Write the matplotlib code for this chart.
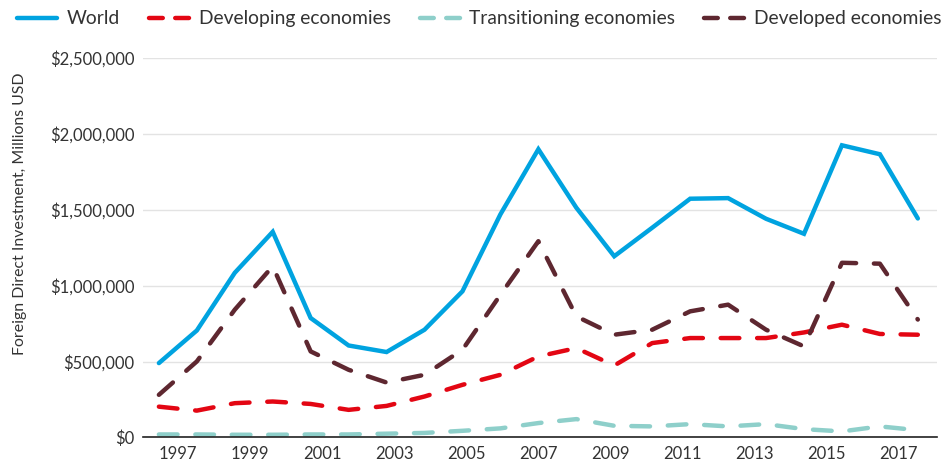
import numpy as np
import matplotlib.pyplot as plt
from matplotlib.lines import Line2D

years = list(range(1997, 2018))

world = [490, 705, 1085, 1355, 787, 606, 563, 710, 963, 1470, 1899,
         1514, 1194, 1382, 1573, 1577, 1441, 1342, 1925, 1866, 1443]
developing = [203, 177, 226, 237, 221, 182, 208, 270, 347, 413, 534,
              589, 474, 622, 655, 655, 655, 692, 743, 682, 677]
transitioning = [20, 20, 18, 18, 20, 20, 25, 30, 44, 60, 95,
                 121, 77, 73, 88, 73, 88, 55, 40, 73, 48]
developed = [281, 501, 842, 1128, 567, 446, 362, 413, 578, 940, 1293,
             798, 677, 710, 831, 875, 710, 600, 1151, 1145, 777]

# values above are thousands of millions USD
world = np.array(world) * 1000
developing = np.array(developing) * 1000
transitioning = np.array(transitioning) * 1000
developed = np.array(developed) * 1000

tick_labels = [str(y) for y in range(1997, 2018, 2)]

plt.rcParams['font.family'] = ['Lato', 'DejaVu Sans']
txt = '#333333'
c_world, c_dev, c_trans, c_devd = '#00a3e0', '#e30613', '#8ecfca', '#5e2730'

fig = plt.figure(figsize=(9.53, 4.66), dpi=100)
ax = fig.add_axes([0.150, 0.0612, 0.833, 0.8143])

dash = (4.2, 4.0)
ax.plot(years, world, color=c_world, lw=3.2, solid_capstyle='round',
        solid_joinstyle='miter', zorder=5)
ax.plot(years, developing, color=c_dev, lw=3.2, dashes=dash,
        dash_capstyle='round', zorder=4)
ax.plot(years, transitioning, color=c_trans, lw=3.2, dashes=dash,
        dash_capstyle='round', zorder=3)
ax.plot(years, developed, color=c_devd, lw=3.2, dashes=dash,
        dash_capstyle='round', zorder=4)

ax.set_ylim(0, 2500000)
ax.set_xlim(1996.58, 2017.5)
ax.set_yticks(np.arange(0, 2500001, 500000))
ax.set_yticklabels(['${:,.0f}'.format(v) for v in np.arange(0, 2500001, 500000)])
ax.set_xticks(np.linspace(1997.5, 2016.5, len(tick_labels)))
ax.set_xticklabels(tick_labels)
ax.tick_params(length=0, labelsize=12, colors=txt, pad=6)
ax.tick_params(axis='y', pad=6)
ax.grid(axis='y', color='#e3e3e3', lw=1)
ax.set_axisbelow(True)
for s in ['top', 'right', 'left']:
    ax.spines[s].set_visible(False)
ax.spines['bottom'].set_color('#222222')
ax.spines['bottom'].set_linewidth(1.2)
ax.spines['bottom'].set_zorder(6)

ax.set_ylabel('Foreign Direct Investment, Millions USD', fontsize=11.4,
              color=txt)
ax.yaxis.set_label_coords(-0.146, 0.59)

# legend handles with a shorter dash so two dashes show, like the original
leg_dash = (3.1, 2.8)
handles = [
    Line2D([], [], color=c_world, lw=3.2, solid_capstyle='round'),
    Line2D([], [], color=c_dev, lw=3.2, dashes=leg_dash, dash_capstyle='round'),
    Line2D([], [], color=c_trans, lw=3.2, dashes=leg_dash, dash_capstyle='round'),
    Line2D([], [], color=c_devd, lw=3.2, dashes=leg_dash, dash_capstyle='round'),
]
labels = ['World', 'Developing economies', 'Transitioning economies',
          'Developed economies']
fig.legend(handles, labels, loc='upper left', bbox_to_anchor=(0.0, 1.015),
           ncol=4, frameon=False, fontsize=13.9, handlelength=2.07,
           handletextpad=0.5, columnspacing=1.5, labelcolor=txt)

fig.savefig('out.png', dpi=100)
